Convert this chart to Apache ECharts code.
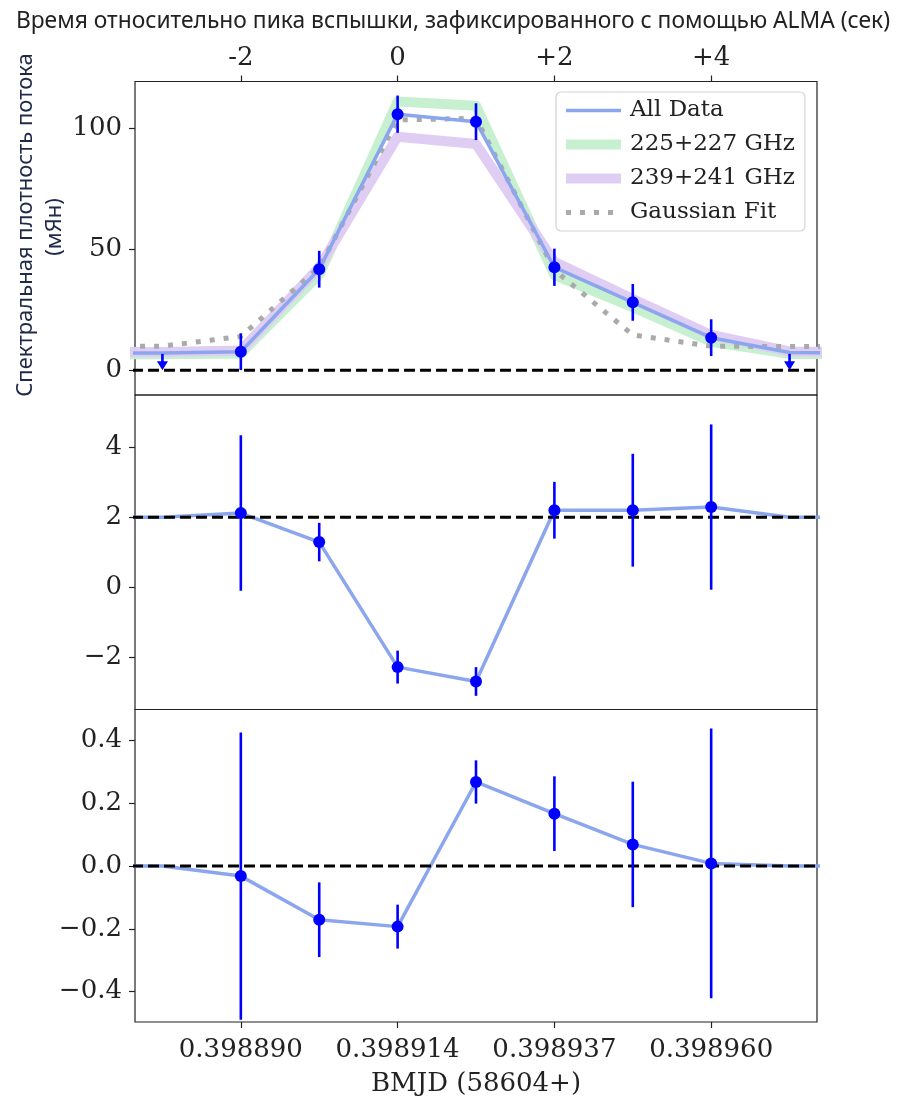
<!DOCTYPE html>
<html><head><meta charset="utf-8">
<script src="https://cdn.jsdelivr.net/npm/echarts@6/dist/echarts.min.js"></script>
<style>html,body{margin:0;padding:0;background:#fff}#c{width:906px;height:1098px}</style>
</head><body><div id="c"></div>
<script>
// ---- data ----
const timeSec     = [-4, -3, -2, -1, 0, 1, 2, 3, 4, 5, 6];
const fluxAll     = [7.0, 7.2, 7.7, 41.8, 105.9, 102.8, 42.6, 28.1, 13.5, 7.4, 7.0];
const fluxAllErr  = [null, null, 7.6, 7.6, 7.7, 7.6, 7.7, 7.6, 7.6, null, null];
const flux225     = [6.6, 6.6, 7.0, 39.5, 111.1, 109.4, 39.4, 26.1, 11.8, 6.8, 6.8];
const flux239     = [7.6, 7.6, 8.2, 42.5, 96.6, 93.6, 44.9, 29.5, 14.6, 7.8, 7.6];
const gaussFit    = [9.8, 10.0, 14.0, 42.5, 103.5, 104.2, 41.5, 14.6, 10.0, 9.8, 9.8];
const upperLimitTimes  = [-3, 5];
const upperLimitValues = [6.8, 6.8];

const panel2Vals  = [2.0, 2.0, 2.12, 1.29, -2.28, -2.69, 2.20, 2.20, 2.29, 2.0, 2.0];
const panel2Err   = [null, null, 2.22, 0.55, 0.47, 0.41, 0.81, 1.61, 2.36, null, null];
const panel3Vals  = [0.0, 0.0, -0.032, -0.171, -0.193, 0.268, 0.167, 0.069, 0.0085, 0.0, 0.0];
const panel3Err   = [null, null, 0.458, 0.119, 0.07, 0.069, 0.119, 0.2, 0.43, null, null];

const refLevels   = [0, 2, 0];

const xTickSeconds   = [-2, 0, 2, 4];
const topTickLabels  = ['-2', '0', '+2', '+4'];
const bmjdTickLabels = ['0.398890', '0.398914', '0.398937', '0.398960'];
const y1Ticks = [0, 50, 100];
const y1TickLabels = ['0', '50', '100'];
const y2Ticks = [-2, 0, 2, 4];
const y2TickLabels = ['\u22122', '0', '2', '4'];
const y3Ticks = [-0.4, -0.2, 0, 0.2, 0.4];
const y3TickLabels = ['\u22120.4', '\u22120.2', '0.0', '0.2', '0.4'];

const titleText = 'Время относительно пика вспышки, зафиксированного с помощью ALMA (сек)';
const yLabelLine1 = 'Спектральная плотность потока';
const yLabelLine2 = '(мЯн)';
const xLabelText = 'BMJD (58604+)';
const legendNames = ['All Data', '225+227 GHz', '239+241 GHz', 'Gaussian Fit'];

// ---- helpers ----
const pair = (xs, ys) => xs.map((x, i) => [x, ys[i]]);
const errData = (xs, ys, es) => xs.map((x, i) => es[i] == null ? null : [x, ys[i] - es[i], ys[i] + es[i]]).filter(d => d);
const markData = (xs, ys, es) => xs.map((x, i) => es[i] == null ? null : [x, ys[i]]).filter(d => d);
const lookup = (ticks, labels) => v => { const i = ticks.findIndex(t => Math.abs(t - v) < 1e-6); return i < 0 ? '' : labels[i]; };

const SERIF = 'DejaVu Serif';
const FRAME = '#222';
const BLUE = '#0000ff';
const LINEBLUE = '#8ca6ee';

function errSeries(xi, yi, data) {
  return {
    type: 'custom', xAxisIndex: xi, yAxisIndex: yi, z: 6, silent: true,
    data: data, encode: { x: 0, y: [1, 2] },
    renderItem: (params, api) => {
      const p1 = api.coord([api.value(0), api.value(1)]);
      const p2 = api.coord([api.value(0), api.value(2)]);
      return { type: 'line', shape: { x1: p1[0], y1: p1[1], x2: p2[0], y2: p2[1] },
               style: { stroke: BLUE, lineWidth: 2.6 } };
    }
  };
}
function markerSeries(xi, yi, data) {
  return { type: 'scatter', xAxisIndex: xi, yAxisIndex: yi, z: 7, silent: true,
           symbol: 'circle', symbolSize: 12, itemStyle: { color: BLUE, opacity: 1 }, data: data };
}
function lineSeries(name, xi, yi, data, color, width, type, z) {
  return { name: name, type: 'line', xAxisIndex: xi, yAxisIndex: yi, z: z, silent: true,
           symbol: 'none', showSymbol: false, color: color, data: data, clip: true,
           lineStyle: { color: color, width: width, type: type || 'solid', join: 'round' } };
}
function refSeries(xi, yi, level) {
  const d = [[timeSec[0], level], [timeSec[timeSec.length - 1], level]];
  return { type: 'line', xAxisIndex: xi, yAxisIndex: yi, z: 5, silent: true, symbol: 'none',
           data: d, clip: true, lineStyle: { color: '#000', width: 3, type: [11, 5] } };
}

const X_MIN = -3.35, X_MAX = 5.35;
function xAxisCfg(grid, pos, labels) {
  return {
    type: 'value', gridIndex: grid, position: pos, min: X_MIN, max: X_MAX,
    splitLine: { show: false }, axisLine: { show: false, onZero: false },
    axisTick: { show: !!labels, customValues: xTickSeconds, length: 6, lineStyle: { color: FRAME, width: 1.2 } },
    axisLabel: labels ? { show: true, customValues: xTickSeconds, formatter: lookup(xTickSeconds, labels),
                          fontFamily: SERIF, fontSize: 26, color: '#222', margin: (pos === 'top' ? 10 : 15) } : { show: false }
  };
}
function yAxisCfg(grid, min, max, ticks, labels) {
  return {
    type: 'value', gridIndex: grid, min: min, max: max, position: 'left',
    splitLine: { show: false }, axisLine: { show: false, onZero: false },
    axisTick: { show: true, customValues: ticks, length: 6, lineStyle: { color: FRAME, width: 1.2 } },
    axisLabel: { customValues: ticks, formatter: lookup(ticks, labels),
                 fontFamily: SERIF, fontSize: 26, color: '#222', margin: 13 }
  };
}

const gridBase = { left: 135, right: 89, show: true, borderColor: FRAME, borderWidth: 1.2, backgroundColor: 'transparent' };

const option = {
  animation: false,
  backgroundColor: '#fff',
  title: { text: titleText, left: 'center', top: 5,
           textStyle: { fontFamily: 'Noto Sans', fontSize: 22.8, fontWeight: 'normal', color: '#222' } },
  graphic: [
    { type: 'text', x: 26, y: 225, rotation: Math.PI / 2,
      style: { text: yLabelLine1, fontFamily: 'Noto Sans', fontSize: 22, fill: '#1f2a48', align: 'center', verticalAlign: 'middle' } },
    { type: 'text', x: 55, y: 227, rotation: Math.PI / 2,
      style: { text: yLabelLine2, fontFamily: 'Noto Sans', fontSize: 22, fill: '#1f2a48', align: 'center', verticalAlign: 'middle' } }
  ],
  legend: {
    data: legendNames, orient: 'vertical', left: 556, top: 92,
    itemWidth: 55, itemHeight: 20, itemGap: 11, padding: [7, 10, 7, 5],
    borderColor: '#d3d3d3', borderWidth: 1.2, borderRadius: 5, backgroundColor: '#fff',
    selectedMode: false,
    itemStyle: { color: 'rgba(0,0,0,0)', borderWidth: 0, opacity: 0 },
    lineStyle: { width: 'inherit', type: 'inherit' },
    textStyle: { fontFamily: SERIF, fontSize: 23, color: '#222', padding: [0, 0, 0, 4] }
  },
  grid: [
    Object.assign({ top: 81.5, height: 313.5 }, gridBase),
    Object.assign({ top: 395, height: 314.5 }, gridBase),
    Object.assign({ top: 709.5, height: 314 }, gridBase)
  ],
  xAxis: [
    xAxisCfg(0, 'bottom', null),
    xAxisCfg(0, 'top', topTickLabels),
    xAxisCfg(1, 'bottom', null),
    Object.assign(xAxisCfg(2, 'bottom', bmjdTickLabels), {
      name: xLabelText, nameLocation: 'middle', nameGap: 49,
      nameTextStyle: { fontFamily: SERIF, fontSize: 26, color: '#222' }
    })
  ],
  yAxis: [
    yAxisCfg(0, -10.2, 119.4, y1Ticks, y1TickLabels),
    yAxisCfg(1, -3.49, 5.49, y2Ticks, y2TickLabels),
    yAxisCfg(2, -0.497, 0.499, y3Ticks, y3TickLabels)
  ],
  series: [
    // panel 1
    lineSeries(legendNames[1], 0, 0, pair(timeSec, flux225), '#c6f0cf', 10, 'solid', 2),
    lineSeries(legendNames[2], 0, 0, pair(timeSec, flux239), '#e0cdf4', 10, 'solid', 2),
    lineSeries(legendNames[3], 0, 0, pair(timeSec, gaussFit), '#aaaaaa', 5, [5, 9], 3),
    lineSeries(legendNames[0], 0, 0, pair(timeSec, fluxAll), LINEBLUE, 3.5, 'solid', 4),
    refSeries(0, 0, refLevels[0]),
    errSeries(0, 0, errData(timeSec, fluxAll, fluxAllErr)),
    markerSeries(0, 0, markData(timeSec, fluxAll, fluxAllErr)),
    {
      type: 'custom', xAxisIndex: 0, yAxisIndex: 0, z: 6, silent: true,
      data: pair(upperLimitTimes, upperLimitValues), encode: { x: 0, y: 1 },
      renderItem: (params, api) => {
        const top = api.coord([api.value(0), api.value(1)]);
        const bot = api.coord([api.value(0), 0]);
        const head = 9, hw = 5.5;
        return { type: 'group', children: [
          { type: 'line', shape: { x1: top[0], y1: top[1], x2: bot[0], y2: bot[1] - head + 1 },
            style: { stroke: BLUE, lineWidth: 2.6 } },
          { type: 'polygon', shape: { points: [[bot[0] - hw, bot[1] - head], [bot[0] + hw, bot[1] - head], [bot[0], bot[1]]] },
            style: { fill: BLUE } }
        ] };
      }
    },
    // panel 2
    lineSeries('_p2', 2, 1, pair(timeSec, panel2Vals), LINEBLUE, 3.5, 'solid', 4),
    refSeries(2, 1, refLevels[1]),
    errSeries(2, 1, errData(timeSec, panel2Vals, panel2Err)),
    markerSeries(2, 1, markData(timeSec, panel2Vals, panel2Err)),
    // panel 3
    lineSeries('_p3', 3, 2, pair(timeSec, panel3Vals), LINEBLUE, 3.5, 'solid', 4),
    refSeries(3, 2, refLevels[2]),
    errSeries(3, 2, errData(timeSec, panel3Vals, panel3Err)),
    markerSeries(3, 2, markData(timeSec, panel3Vals, panel3Err))
  ]
};

const chart = echarts.init(document.getElementById('c'), null, { renderer: 'canvas' });
chart.setOption(option);
</script>
</body></html>
